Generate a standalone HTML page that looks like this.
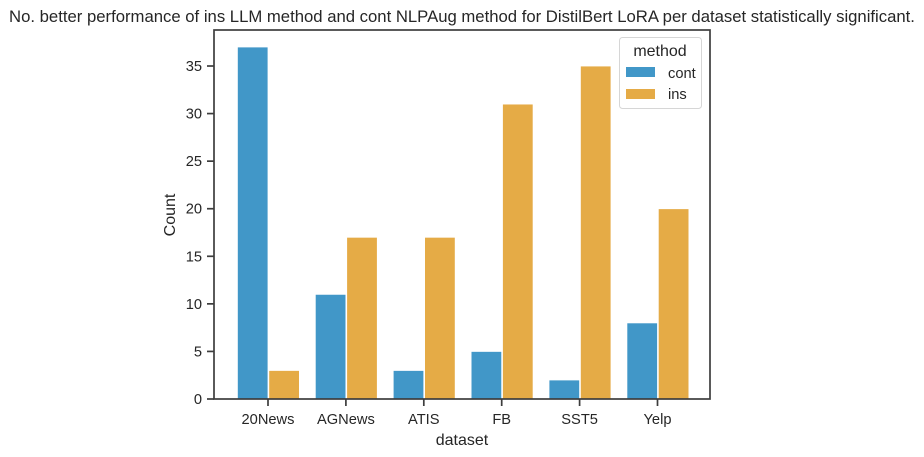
<!DOCTYPE html>
<html>
<head>
<meta charset="utf-8">
<style>
html,body{margin:0;padding:0;background:#fff;width:924px;height:457px;overflow:hidden}
svg{display:block}
text{font-family:"Liberation Sans",sans-serif;fill:#262626}
</style>
</head>
<body>
<svg id="chart" width="924" height="457" viewBox="0 0 924 457" xmlns="http://www.w3.org/2000/svg">
<text x="462" y="22" font-size="16.7" text-anchor="middle">No. better performance of ins LLM method and cont NLPAug method for DistilBert LoRA per dataset statistically significant.</text>
<g id="bars"></g>
<g id="ticks"></g>
<rect x="214" y="30" width="496" height="369" fill="none" stroke="#3d3d3d" stroke-width="1.7"/>
<text transform="translate(175 215) rotate(-90)" font-size="16" text-anchor="middle">Count</text>
<text x="462" y="445" font-size="16" text-anchor="middle">dataset</text>
<g>
<rect x="619.5" y="37.5" width="82" height="71" rx="3" fill="#fff" stroke="#d6d6d6"/>
<text x="660" y="56" font-size="16" text-anchor="middle">method</text>
<rect x="626" y="67" width="29" height="10" fill="#4197c8"/>
<text x="668" y="78" font-size="14.67">cont</text>
<rect x="626" y="89" width="29" height="10" fill="#e5ab46"/>
<text x="668" y="99" font-size="14.67">ins</text>
</g>
</svg>
<script>
const categories = ["20News", "AGNews", "ATIS", "FB", "SST5", "Yelp"];
const contValues = [37, 11, 3, 5, 2, 8];
const insValues = [3, 17, 17, 31, 35, 20];
const yTickLabels = [0, 5, 10, 15, 20, 25, 30, 35];

const NS = "http://www.w3.org/2000/svg";
const barsGroup = document.getElementById("bars");
const ticksGroup = document.getElementById("ticks");
function xScale(i) { return 268 + i * 77.9; }
function yScale(v) { return 399 - v * 9.514; }
function make(tag, attrs, parent) {
  const el = document.createElementNS(NS, tag);
  for (const k in attrs) el.setAttribute(k, attrs[k]);
  parent.appendChild(el);
  return el;
}
const barWidth = 30.6;
function drawBar(i, v, offset, fill, label) {
  const top = yScale(v);
  const el = make("rect", {
    x: xScale(i) + offset, y: top, width: barWidth, height: 399 - top,
    fill: fill, stroke: "#fff", "stroke-width": 0.8
  }, barsGroup);
  
  
}
categories.forEach(function (name, i) {
  drawBar(i, contValues[i], -barWidth, "#4197c8", "cont");
  drawBar(i, insValues[i], 0.8, "#e5ab46", "ins");
  const t = make("line", { x1: xScale(i), x2: xScale(i), y1: 399, y2: 406, stroke: "#3d3d3d", "stroke-width": 1.7 }, ticksGroup);
  
  
  const l = make("text", { x: xScale(i), y: 424, "font-size": 14.67, "text-anchor": "middle" }, ticksGroup);
  l.textContent = name;
  
  
});
yTickLabels.forEach(function (v) {
  const t = make("line", { x1: 207, x2: 214, y1: yScale(v), y2: yScale(v), stroke: "#3d3d3d", "stroke-width": 1.7 }, ticksGroup);
  
  
  const l = make("text", { x: 202, y: yScale(v) + 5, "font-size": 14.67, "text-anchor": "end" }, ticksGroup);
  l.textContent = v;
  
  
});
</script>
</body>
</html>
